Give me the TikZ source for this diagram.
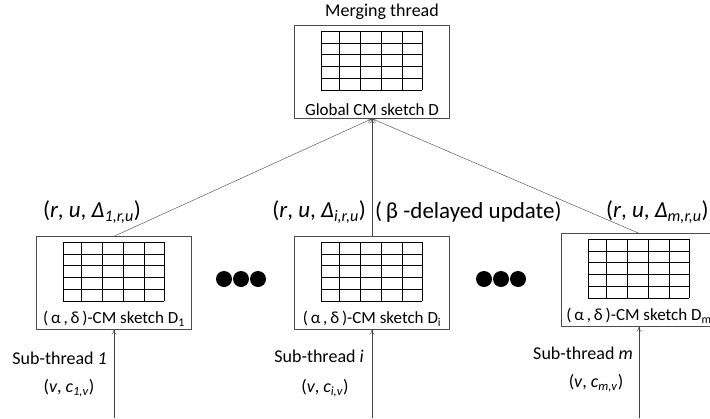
\documentclass[tikz,border=0pt]{standalone}
\usepackage{fontspec}
\setmainfont{Carlito}
\usetikzlibrary{arrows.meta}
\tikzset{
  sketchbox/.style={draw=black!70, minimum width=155pt, minimum height=93pt, inner sep=0pt},
  link/.style={draw=black!75, -{To[length=5pt,width=5pt]}},
  boxtext/.style={font=\fontsize{17}{19}\selectfont},
  tag/.style={font=\fontsize{23}{26}\selectfont, inner sep=0pt},
  subtag/.style={font=\fontsize{18}{21}\selectfont, inner sep=0pt},
}
% 5 x 5 counter grid, #1 = box centre
\newcommand{\cmgrid}[1]{%
  \begin{scope}[shift={(#1)}]
    \foreach \gx in {0,18,39,60,81,101}
      \draw (\gx-51,-41) -- (\gx-51,18);
    \foreach \gy in {0,1,2,3,4,5}
      \draw (-51,-41+11.8*\gy) -- (50,-41+11.8*\gy);
  \end{scope}}
\begin{document}
\begin{tikzpicture}[x=1pt,y=-1pt]
\useasboundingbox (0,0) rectangle (710,418);
\node[font=\fontsize{18}{20}\selectfont] (title) at (382,12) {Merging thread};
% sketches
\node[sketchbox, label={[boxtext, above=0pt]south:Global CM sketch D}] (top) at (372,72) {};
\node[sketchbox, label={[boxtext, above=0pt]south:(\,α\,,\,δ\,)-CM sketch D\textsubscript{1}}] (d1) at (114,283) {};
\node[sketchbox, label={[boxtext, above=0pt]south:(\,α\,,\,δ\,)-CM sketch D\textsubscript{i}}] (di) at (372,283) {};
\node[sketchbox, label={[boxtext, above=0pt]south:(\,α\,,\,δ\,)-CM sketch D\textsubscript{m}}] (dm) at (639,280) {};
\cmgrid{372,72}
\cmgrid{114,283}
\cmgrid{372,283}
\cmgrid{639,280}
% dots between sub-threads
\foreach \dx in {224,241,258,484,501,518}
  \fill (\dx,279) circle[radius=8pt];
% inputs
\coordinate (in1) at (114,418);
\coordinate (ini) at (372,418);
\coordinate (inm) at (639,418);
\draw[link] (in1) -- (d1.south);
\draw[link] (ini) -- (di.south);
\draw[link] (inm) -- (dm.south);
\draw[link] (d1.north) -- (top.south);
\draw[link] (di.north) -- (top.south);
\draw[link] (dm.north) -- (top.south);
% labels
\node[tag] at (92,212) {(\textit{r}, \textit{u}, \textit{Δ}\textsubscript{\textit{1,r,u}})};
\node[tag, anchor=east] at (366,212) {(\textit{r}, \textit{u}, \textit{Δ}\textsubscript{\textit{i,r,u}})};
\node[tag, anchor=west] at (375,212) {(\,β -delayed update)};
\node[tag, anchor=west] at (606,212) {(\textit{r}, \textit{u}, \textit{Δ}\textsubscript{\textit{m,r,u}})};
\node[subtag, anchor=east] at (107,358) {Sub-thread \textit{1}};
\node[subtag] at (69,388) {(\textit{v}, \textit{c}\textsubscript{\textit{1,v}})};
\node[subtag, anchor=east] at (364,356) {Sub-thread \textit{i}};
\node[subtag] at (325,388) {(\textit{v}, \textit{c}\textsubscript{\textit{i,v}})};
\node[subtag, anchor=east] at (633,353) {Sub-thread \textit{m}};
\node[subtag] at (596,383) {(\textit{v}, \textit{c}\textsubscript{\textit{m,v}})};
\end{tikzpicture}
\end{document}
